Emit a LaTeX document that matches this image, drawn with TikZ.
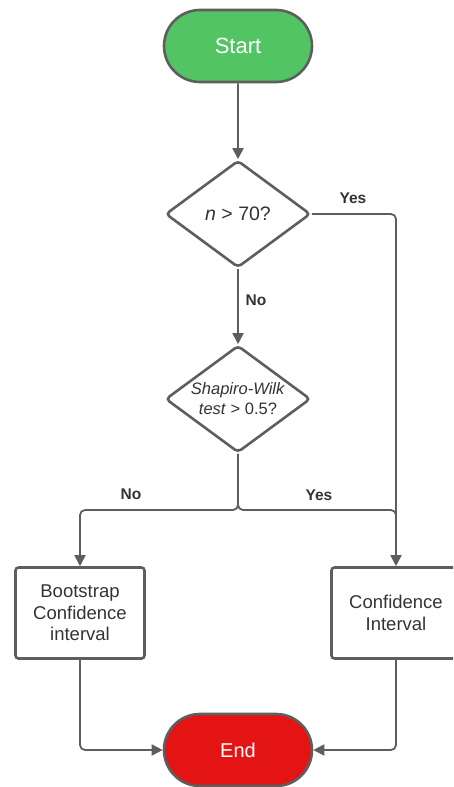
\documentclass[tikz,border=0pt]{standalone}
\usepackage{fontspec}
\setmainfont{Liberation Sans}
\usetikzlibrary{shapes.geometric,shapes.misc,arrows.meta}
\definecolor{edgegray}{HTML}{5E5E5E}
\definecolor{startgreen}{HTML}{52C464}
\definecolor{endred}{HTML}{E41414}
\definecolor{txtgray}{HTML}{333333}

\tikzset{
  terminal/.style={rounded rectangle, draw=edgegray, line width=2.6pt,
    minimum width=148pt, minimum height=72pt, inner sep=0pt, text=white,
    font=\fontsize{21}{25}\selectfont},
  decision/.style={diamond, draw=edgegray, line width=2.6pt, rounded corners=4pt,
    minimum width=145pt, minimum height=107pt, inner sep=0pt, aspect=1.35,
    text=txtgray, align=center, font=\fontsize{16.5}{20}\selectfont},
  process/.style={rectangle, draw=edgegray, line width=2.6pt, rounded corners=3pt,
    minimum width=129pt, minimum height=91pt, inner sep=0pt,
    text=txtgray, align=center, font=\fontsize{18.5}{21.5}\selectfont},
  conn/.style={draw=edgegray, line width=1.8pt, rounded corners=5pt,
    -{Triangle[length=11pt,width=11pt]}},
  plainconn/.style={draw=edgegray, line width=1.8pt, rounded corners=5pt},
  edgelabel/.style={text=txtgray, font=\fontsize{15.5}{18}\selectfont\bfseries}
}

\begin{document}
\begin{tikzpicture}[x=1pt,y=-1pt]
\useasboundingbox (0,0) rectangle (453,787);
\clip (0,0) rectangle (453,787);

% shapes
\node[terminal, fill=startgreen, font=\fontsize{22}{26}\selectfont] (start) at (238,46) {Start};
\node[decision, font=\fontsize{19.5}{23}\selectfont] (d1) at (238,214) {\textit{n} > 70?};
\node[decision] (d2) at (238,399) {\textit{Shapiro-Wilk}\\\textit{test} > 0.5?};
\node[process] (boot) at (80,613) {Bootstrap\\Confidence\\interval};
\node[process] (ci) at (396,613) {Confidence\\Interval};
\node[terminal, fill=endred, font=\fontsize{20}{24}\selectfont] (end) at (238,750) {End};

% branch points
\coordinate (split) at (238,510);
\coordinate (merge) at (396,535);

% connectors
\draw[conn] (start) -- (d1);
\draw[conn] (d1) -- (d2);
\draw[conn] (d1.east) -| (ci.north);
\draw[conn] (d2.south) -- (split) -| (boot.north);
\draw[plainconn] (d2.south) -- (split) -| (merge);
\draw[conn] (boot.south) |- (end.west);
\draw[conn] (ci.south) |- (end.east);

% labels
\node[edgelabel] (lyes1) at (353,198) {Yes};
\node[edgelabel] (lno1) at (256,300) {No};
\node[edgelabel] (lno2) at (131,494) {No};
\node[edgelabel] (lyes2) at (319,495) {Yes};
\end{tikzpicture}
\end{document}
